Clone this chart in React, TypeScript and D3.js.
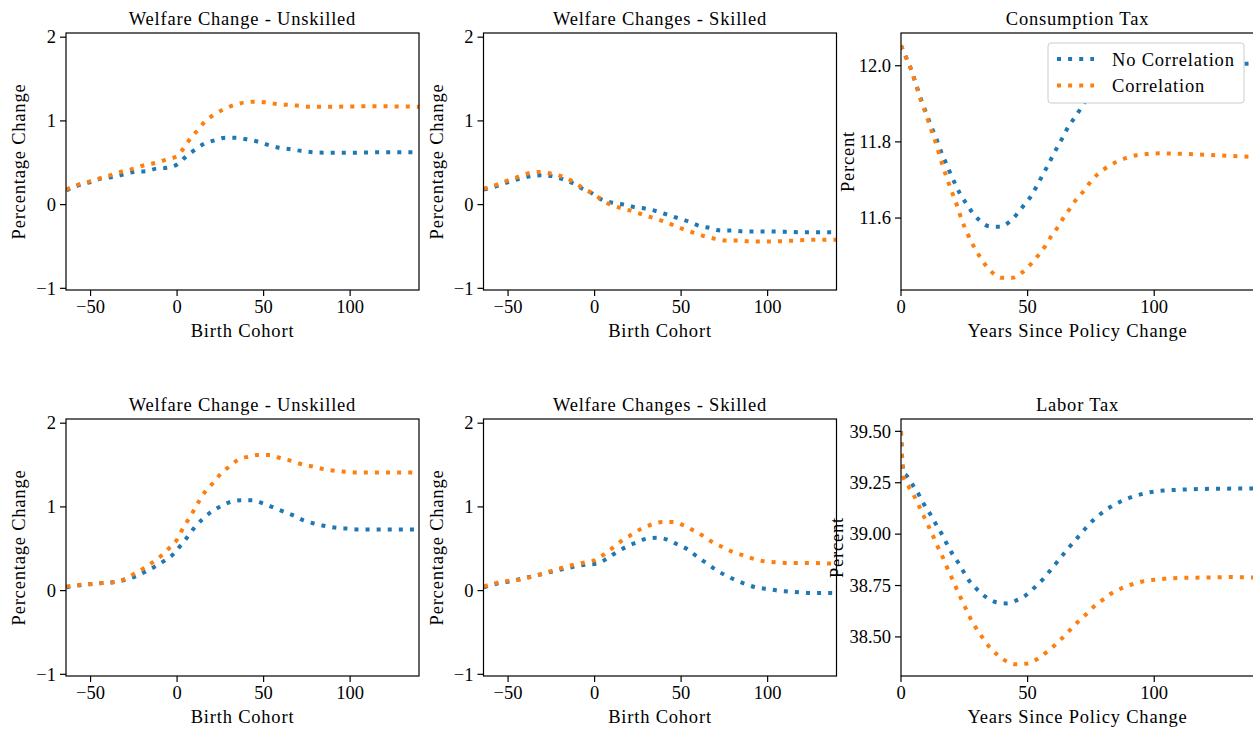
import React from "react";
import * as d3 from "d3";

type Pt = [number, number];

// ---------- DATA ----------
const COHORT_TICKS = [-50, 0, 50, 100];
const WELFARE_TICKS = [-1, 0, 1, 2];
const YEAR_TICKS = [0, 50, 100];
const CTAX_TICKS = [11.6, 11.8, 12.0];
const LTAX_TICKS = [38.5, 38.75, 39.0, 39.25, 39.5];
const SERIES_NAMES = ["No Correlation", "Correlation"];

// Top row
const UNSK1_NOCORR: Pt[] = [[-64,0.17],[-57,0.23],[-50,0.27],[-44,0.31],[-37,0.33],[-31,0.36],[-25,0.39],[-18,0.40],[-12,0.43],[-6,0.44],[0,0.48],[5,0.57],[10,0.65],[15,0.72],[22,0.77],[28,0.80],[34,0.80],[40,0.78],[47,0.75],[53,0.71],[59,0.68],[66,0.66],[72,0.64],[79,0.625],[85,0.62],[100,0.62],[120,0.625],[140,0.625]];
const UNSK1_CORR: Pt[] = [[-64,0.18],[-57,0.24],[-50,0.28],[-44,0.32],[-37,0.36],[-31,0.40],[-25,0.43],[-19,0.47],[-12,0.50],[-6,0.54],[0,0.58],[4,0.68],[8,0.80],[12,0.89],[16,0.99],[21,1.07],[27,1.14],[33,1.19],[39,1.22],[45,1.23],[52,1.22],[58,1.20],[65,1.19],[71,1.18],[77,1.17],[90,1.17],[110,1.175],[140,1.17]];
const SK1_NOCORR: Pt[] = [[-64,0.18],[-55,0.23],[-50,0.27],[-43,0.31],[-37,0.34],[-31,0.35],[-25,0.34],[-18,0.30],[-12,0.25],[-7,0.19],[-1,0.13],[4,0.06],[11,0.02],[17,0.00],[23,-0.03],[30,-0.05],[36,-0.08],[42,-0.12],[48,-0.16],[54,-0.20],[60,-0.25],[67,-0.28],[73,-0.31],[79,-0.31],[86,-0.32],[100,-0.32],[120,-0.33],[140,-0.33]];
const SK1_CORR: Pt[] = [[-64,0.19],[-55,0.25],[-50,0.29],[-43,0.34],[-37,0.38],[-31,0.39],[-25,0.37],[-18,0.33],[-12,0.27],[-7,0.20],[-1,0.13],[4,0.06],[9,0.00],[15,-0.04],[22,-0.08],[28,-0.12],[34,-0.16],[40,-0.20],[46,-0.25],[52,-0.30],[58,-0.34],[64,-0.38],[70,-0.41],[76,-0.43],[83,-0.43],[90,-0.44],[103,-0.44],[115,-0.43],[128,-0.42],[140,-0.42]];
const CTAX_NOCORR: Pt[] = [[0,12.053],[2,12.022],[4,11.99],[6,11.95],[8,11.91],[10,11.875],[12,11.84],[14,11.808],[16,11.771],[18,11.741],[19.5,11.717],[21.3,11.691],[23.3,11.664],[25.6,11.64],[28,11.616],[31,11.594],[35,11.578],[39,11.577],[43,11.591],[46,11.612],[48.7,11.635],[51.5,11.659],[53.6,11.684],[55.7,11.71],[57.8,11.736],[59.8,11.762],[61.8,11.787],[64,11.813],[66,11.839],[68.5,11.863],[71,11.888],[75,11.93],[80,11.97],[86,11.995],[95,12.01],[105,12.012],[120,12.006],[140,12.005]];
const CTAX_CORR: Pt[] = [[0,12.053],[2,12.022],[4,11.99],[6,11.948],[8,11.906],[10,11.87],[12,11.83],[14,11.792],[16,11.747],[18,11.707],[20,11.67],[22,11.635],[24,11.595],[26,11.563],[28,11.535],[31,11.50],[33,11.48],[36,11.457],[40,11.443],[44,11.443],[48,11.458],[51,11.477],[54,11.50],[57,11.527],[59,11.549],[62,11.577],[64,11.599],[66.5,11.623],[69,11.647],[72,11.67],[74.5,11.692],[77.5,11.714],[81,11.732],[85,11.747],[89,11.758],[93,11.765],[97,11.768],[102,11.77],[110,11.769],[120,11.766],[130,11.763],[140,11.76]];

// Bottom row
const UNSK2_NOCORR: Pt[] = [[-64,0.04],[-56,0.065],[-49,0.08],[-43,0.09],[-37,0.10],[-30,0.13],[-24,0.17],[-18,0.23],[-12.5,0.29],[-7,0.36],[-2,0.44],[2,0.54],[6,0.64],[10,0.75],[14.5,0.85],[19,0.93],[24.5,1.0],[31,1.06],[37,1.08],[43,1.08],[50,1.04],[56,0.99],[62,0.94],[68,0.89],[73,0.84],[79.5,0.80],[86,0.77],[92.5,0.75],[99,0.74],[105,0.73],[120,0.73],[140,0.73]];
const UNSK2_CORR: Pt[] = [[-64,0.05],[-56,0.07],[-49,0.08],[-43,0.09],[-37,0.10],[-30,0.14],[-25,0.20],[-19,0.27],[-14,0.34],[-9,0.42],[-4,0.52],[0,0.61],[3,0.73],[6.5,0.85],[10,0.97],[13,1.08],[16.5,1.19],[21,1.29],[25,1.39],[30,1.48],[35,1.56],[41,1.60],[47,1.62],[54,1.62],[60,1.58],[66,1.55],[72,1.51],[79,1.48],[85,1.45],[91.5,1.43],[98,1.42],[104,1.41],[120,1.41],[140,1.41]];
const SK2_NOCORR: Pt[] = [[-64,0.04],[-55,0.09],[-49,0.11],[-43,0.14],[-36,0.17],[-30,0.20],[-24,0.23],[-17.5,0.26],[-11,0.29],[-5,0.31],[1,0.32],[7,0.38],[12,0.45],[18,0.52],[23.5,0.57],[30,0.62],[36,0.63],[42,0.61],[48,0.55],[54,0.49],[59,0.41],[64.5,0.33],[70,0.25],[75,0.19],[81,0.13],[87,0.08],[93,0.04],[100,0.02],[106,0.00],[112,-0.01],[119,-0.02],[125,-0.03],[140,-0.03]];
const SK2_CORR: Pt[] = [[-64,0.05],[-55,0.10],[-49,0.12],[-43,0.13],[-36,0.17],[-30,0.20],[-24,0.24],[-17.5,0.28],[-11.5,0.31],[-5,0.34],[1,0.37],[6,0.44],[11,0.52],[16,0.60],[21.5,0.67],[27,0.74],[33,0.79],[39,0.82],[45,0.82],[51.5,0.78],[57,0.72],[63,0.65],[68,0.58],[74,0.52],[80,0.46],[86,0.42],[92,0.38],[98,0.35],[104.5,0.34],[111,0.33],[123,0.33],[140,0.32]];
const LTAX_NOCORR: Pt[] = [[0,39.50],[1,39.295],[2.2,39.284],[4.6,39.24],[7,39.193],[9,39.147],[11.5,39.098],[13.7,39.051],[16,39.003],[18,38.955],[20,38.91],[22.5,38.863],[24.7,38.817],[27,38.772],[30,38.732],[33.3,38.696],[37.3,38.67],[41.5,38.663],[45.6,38.678],[49.5,38.705],[52.8,38.741],[56,38.78],[58.7,38.82],[61.4,38.861],[64.3,38.905],[67,38.945],[70,38.987],[73,39.03],[76,39.069],[79.5,39.105],[83,39.134],[87,39.16],[91,39.18],[95.4,39.196],[100,39.207],[104,39.212],[110,39.216],[120,39.22],[140,39.222]];
const LTAX_CORR: Pt[] = [[0,39.50],[1,39.277],[3,39.232],[5,39.19],[7,39.14],[9,39.087],[11,39.035],[13,38.982],[14.5,38.939],[16.4,38.89],[18,38.843],[20,38.789],[21.7,38.741],[23.5,38.692],[25.4,38.643],[27.3,38.593],[29.5,38.546],[32,38.50],[34.6,38.456],[37.5,38.419],[41,38.386],[45,38.367],[49.5,38.37],[54,38.394],[57.3,38.424],[60.6,38.458],[63.7,38.495],[66.7,38.533],[70,38.575],[73,38.609],[76,38.646],[79.5,38.679],[83,38.711],[87,38.736],[91,38.755],[95.4,38.77],[100,38.778],[104,38.783],[110,38.787],[120,38.789],[130,38.791],[140,38.789]];

// ---------- STYLE / LAYOUT ----------
const W = 1253;
const H = 731;
const FONT = "'Liberation Serif', 'Times New Roman', serif";
const FS = 18.5;
const LS = 0.8;
const BLUE = "#1f77b4";
const ORANGE = "#ff7f0e";
const COL_X = [66, 483.5, 901];
const ROW_Y = [33, 419];
const AX_W = 353;
const AX_H = 257;

type PanelCfg = {
  id: string;
  col: number;
  row: number;
  title: string;
  xlabel: string;
  ylabel: string;
  ylabelOffset: number;
  xDomain: [number, number];
  yDomain: [number, number];
  xTicks: number[];
  yTicks: number[];
  yFmt: (v: number) => string;
  blue: Pt[];
  orange: Pt[];
  legend?: boolean;
};

const intFmt = (v: number) => String(v).replace("-", "\u2212");

const PANELS: PanelCfg[] = [
  { id: "p1", col: 0, row: 0, title: "Welfare Change - Unskilled", xlabel: "Birth Cohort", ylabel: "Percentage Change", ylabelOffset: 41, xDomain: [-64.2, 139.8], yDomain: [-1.02, 2.05], xTicks: COHORT_TICKS, yTicks: WELFARE_TICKS, yFmt: intFmt, blue: UNSK1_NOCORR, orange: UNSK1_CORR },
  { id: "p2", col: 1, row: 0, title: "Welfare Changes - Skilled", xlabel: "Birth Cohort", ylabel: "Percentage Change", ylabelOffset: 40.5, xDomain: [-64.2, 139.8], yDomain: [-1.02, 2.05], xTicks: COHORT_TICKS, yTicks: WELFARE_TICKS, yFmt: intFmt, blue: SK1_NOCORR, orange: SK1_CORR },
  { id: "p3", col: 2, row: 0, title: "Consumption Tax", xlabel: "Years Since Policy Change", ylabel: "Percent", ylabelOffset: 47, xDomain: [0, 139.4], yDomain: [11.411, 12.086], xTicks: YEAR_TICKS, yTicks: CTAX_TICKS, yFmt: (v) => v.toFixed(1), blue: CTAX_NOCORR, orange: CTAX_CORR, legend: true },
  { id: "p4", col: 0, row: 1, title: "Welfare Change - Unskilled", xlabel: "Birth Cohort", ylabel: "Percentage Change", ylabelOffset: 41, xDomain: [-64.2, 139.8], yDomain: [-1.02, 2.05], xTicks: COHORT_TICKS, yTicks: WELFARE_TICKS, yFmt: intFmt, blue: UNSK2_NOCORR, orange: UNSK2_CORR },
  { id: "p5", col: 1, row: 1, title: "Welfare Changes - Skilled", xlabel: "Birth Cohort", ylabel: "Percentage Change", ylabelOffset: 40.5, xDomain: [-64.2, 139.8], yDomain: [-1.02, 2.05], xTicks: COHORT_TICKS, yTicks: WELFARE_TICKS, yFmt: intFmt, blue: SK2_NOCORR, orange: SK2_CORR },
  { id: "p6", col: 2, row: 1, title: "Labor Tax", xlabel: "Years Since Policy Change", ylabel: "Percent", ylabelOffset: 58, xDomain: [0, 139.4], yDomain: [38.31, 39.56], xTicks: YEAR_TICKS, yTicks: LTAX_TICKS, yFmt: (v) => v.toFixed(2), blue: LTAX_NOCORR, orange: LTAX_CORR },
];

const lineStyle = {
  fill: "none",
  strokeWidth: 4,
  strokeDasharray: "4 7.1",
  strokeLinecap: "butt" as const,
};

function Panel({ cfg }: { cfg: PanelCfg }) {
  const x0 = COL_X[cfg.col];
  const y0 = ROW_Y[cfg.row];
  const x = d3.scaleLinear().domain(cfg.xDomain).range([x0, x0 + AX_W]);
  const y = d3.scaleLinear().domain(cfg.yDomain).range([y0 + AX_H, y0]);
  const line = d3
    .line<Pt>()
    .x((d) => x(d[0]))
    .y((d) => y(d[1]))
    .curve(d3.curveMonotoneX);
  const bottom = y0 + AX_H;
  const clipId = `clip-${cfg.id}`;
  const legX = x0 + AX_W - 10 - 196;
  const legY = y0 + 10;
  return (
    <g>
      <defs>
        <clipPath id={clipId}>
          <rect x={x0} y={y0} width={AX_W} height={AX_H} />
        </clipPath>
      </defs>
      <g clipPath={`url(#${clipId})`}>
        <path d={line(cfg.blue) || ""} stroke={BLUE} {...lineStyle} />
        <path d={line(cfg.orange) || ""} stroke={ORANGE} {...lineStyle} />
      </g>
      <rect x={x0} y={y0} width={AX_W} height={AX_H} fill="none" stroke="#000" strokeWidth={1.2} />
      {cfg.xTicks.map((t) => (
        <g key={`xt${t}`}>
          <line x1={x(t)} x2={x(t)} y1={bottom} y2={bottom + 6} stroke="#000" strokeWidth={1.2} />
          <text x={x(t)} y={bottom + 23} textAnchor="middle" fontSize={FS} fontFamily={FONT}>
            {intFmt(t)}
          </text>
        </g>
      ))}
      {cfg.yTicks.map((t) => (
        <g key={`yt${t}`}>
          <line x1={x0 - 6} x2={x0} y1={y(t)} y2={y(t)} stroke="#000" strokeWidth={1.2} />
          <text x={x0 - 10} y={y(t) + 6.2} textAnchor="end" fontSize={FS} fontFamily={FONT}>
            {cfg.yFmt(t)}
          </text>
        </g>
      ))}
      <text x={x0 + AX_W / 2} y={y0 - 8} textAnchor="middle" fontSize={FS} fontFamily={FONT} letterSpacing={LS}>
        {cfg.title}
      </text>
      <text x={x0 + AX_W / 2} y={bottom + 46.7} textAnchor="middle" fontSize={FS} fontFamily={FONT} letterSpacing={LS}>
        {cfg.xlabel}
      </text>
      <text
        transform={`translate(${x0 - cfg.ylabelOffset},${y0 + AX_H / 2}) rotate(-90)`}
        textAnchor="middle"
        fontSize={FS}
        fontFamily={FONT}
        letterSpacing={LS}
      >
        {cfg.ylabel}
      </text>
      {cfg.legend && (
        <g>
          <rect x={legX} y={legY} width={196} height={60} rx={3} fill="#fff" stroke="#cccccc" strokeWidth={1} />
          {SERIES_NAMES.map((name, i) => {
            const ly = legY + 16 + i * 26.5;
            return (
              <g key={name}>
                <line x1={legX + 9} x2={legX + 46} y1={ly} y2={ly} stroke={i === 0 ? BLUE : ORANGE} {...lineStyle} />
                <text x={legX + 64} y={ly + 6.6} fontSize={FS} fontFamily={FONT} letterSpacing={LS}>
                  {name}
                </text>
              </g>
            );
          })}
        </g>
      )}
    </g>
  );
}

export default function App() {
  return (
    <svg
      width={W}
      height={H}
      viewBox={`0 0 ${W} ${H}`}
      style={{ position: "absolute", left: 0, top: 0, display: "block", background: "#fff" }}
    >
      <rect x={0} y={0} width={W} height={H} fill="#fff" />
      {PANELS.map((p) => (
        <Panel key={p.id} cfg={p} />
      ))}
    </svg>
  );
}
